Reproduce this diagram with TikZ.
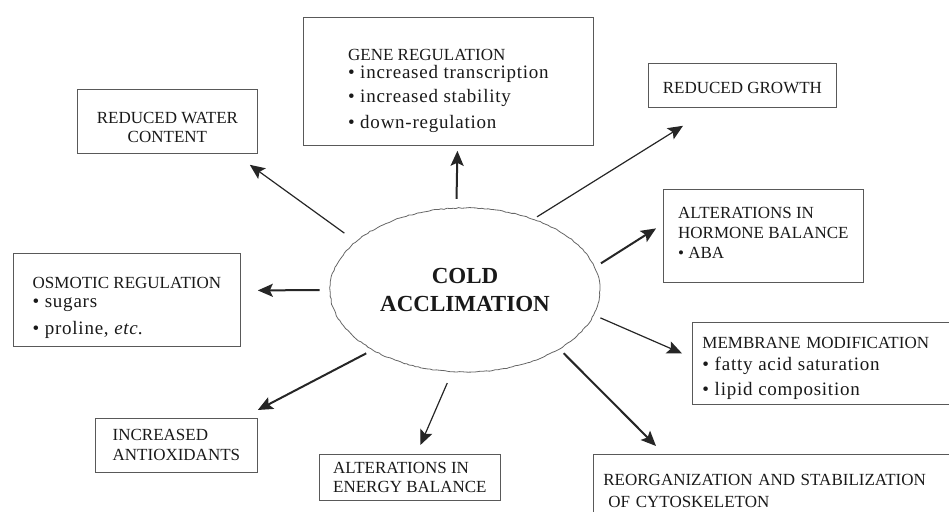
\documentclass[tikz,border=0pt]{standalone}
\usepackage{fontspec}
\setmainfont{Liberation Serif}
\newfontfamily\spacedfont[LetterSpace=4]{Liberation Serif}
\usetikzlibrary{shapes.geometric,arrows.meta,decorations.pathmorphing}
\newcommand{\listline}[1]{{\spacedfont\fontsize{19}{22}\selectfont\textbullet\ #1}}
\newcommand{\pad}[1]{\rule{0pt}{#1}}
\newcommand{\sink}[1]{\rule[-#1]{0pt}{#1}}
\tikzset{
  box/.style={draw=black!65, line width=.8pt, inner sep=0pt, align=left,
    anchor=north west, text=black!90, font=\fontsize{17}{20}\selectfont},
  link/.style={draw=black!85, line width=1.2pt,
    -{Stealth[length=15pt,width=13pt,inset=3pt]}},
  boldlink/.style={link, line width=2pt}
}
\begin{document}
\begin{tikzpicture}[x=1pt,y=-1pt]
\useasboundingbox (0,0) rectangle (949,511);
\pgfmathsetseed{11}

 % centre
 \node[ellipse, draw=black!60, line width=.8pt, decorate,
   decoration={random steps,segment length=3pt,amplitude=.5pt},
   minimum width=270pt, minimum height=164pt, inner sep=0pt, align=center,
   text=black!90, font=\fontsize{23}{27.5}\selectfont\bfseries]
   (cold) at (465,290) {COLD\\ACCLIMATION};

 % boxes
 \node[box, minimum width=290pt, minimum height=128pt] (gene) at (303,17)
   {\pad{30pt}GENE REGULATION\\[-2pt]\listline{increased transcription}\\[4pt]
    \listline{increased stability}\\[6pt]\listline{down-regulation}};
 \node[box, align=center, minimum width=180pt, minimum height=64pt] (water) at (77,89)
   {\pad{23pt}REDUCED WATER\\[-1pt]CONTENT};
 \node[box, minimum width=227pt, minimum height=93pt] (osmotic) at (13,253)
   {\pad{27pt}OSMOTIC REGULATION\\[-1pt]\listline{sugars}\\[7pt]
    \listline{proline, \textit{etc}.}};
 \node[box, minimum width=162pt, minimum height=54pt] (antiox) at (95,418)
   {INCREASED\\ANTIOXIDANTS};
 \node[box, minimum width=181pt, minimum height=46pt] (energy) at (319,454)
   {ALTERATIONS IN\\[-1pt]ENERGY BALANCE};
 \node[box, minimum width=188pt, minimum height=44pt] (growth) at (648,63)
   {\pad{16pt}REDUCED GROWTH};
 \node[box, minimum width=200pt, minimum height=93pt] (hormone) at (663,189)
   {ALTERATIONS IN\\HORMONE BALANCE\\\textbullet\ ABA\sink{6pt}};
 \node[box, text width=280pt, inner xsep=10pt, minimum height=82pt] (membrane) at (692,322)
   {\pad{21pt}MEMBRANE MODIFICATION\\[2pt]\listline{fatty acid saturation}\\[5pt]
    \listline{lipid composition}};
 \node[box, text width=380pt, inner xsep=10pt, minimum height=73pt] (cyto) at (593,454)
   {REORGANIZATION AND STABILIZATION\\[2pt]\hspace*{5pt}OF CYTOSKELETON};

 % arrows
 \draw[link, shorten <=14pt] (cold.156) -- ([shift={(-8,11)}]water.south east);
 \draw[boldlink, shorten <=9pt] (cold.96) -- ([shift={(9,5)}]gene.south);
 \draw[link, shorten <=4pt] (cold.46) -- ([shift={(35,18)}]growth.south west);
 \draw[boldlink, shorten <=7pt] (cold.10) -- ([shift={(-7,-7.5)}]hormone.west);
 \draw[link, shorten <=7pt] (cold.349) -- ([shift={(-10,-10)}]membrane.west);
 \draw[boldlink, shorten <=6pt] (cold.328) -- ([shift={(63,-8)}]cyto.north west);
 \draw[link, shorten <=12pt] (cold.261) -- ([shift={(10.5,-9)}]energy.north);
 \draw[boldlink, shorten <=7pt] (cold.213) -- ([shift={(0,-8)}]antiox.north east);
 \draw[boldlink, shorten <=10pt] (cold.180) -- ([shift={(17,-9.5)}]osmotic.east);

\end{tikzpicture}
\end{document}
